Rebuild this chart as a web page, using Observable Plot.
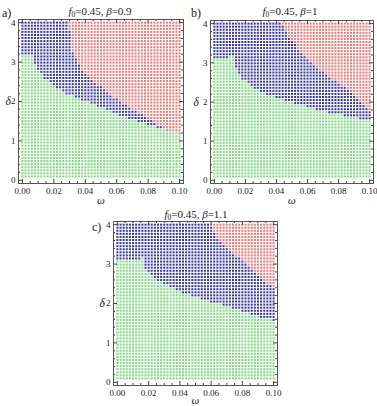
<!DOCTYPE html>
<html>
<head>
<meta charset="utf-8">
<script src="https://cdn.jsdelivr.net/npm/d3@7"></script>
<script src="https://cdn.jsdelivr.net/npm/@observablehq/plot@0.6"></script>
<style>
  body { margin: 0; background: #fff; }
  #chart { position: relative; width: 377px; height: 406px; overflow: hidden; font-family: "Liberation Serif", "Times New Roman", Times, "DejaVu Serif", serif; color: #222; }
  .panel { position: absolute; }
  .panel svg text { font-family: "Liberation Serif", "Times New Roman", Times, "DejaVu Serif", serif; }
  .title { position: absolute; font-size: 11px; line-height: 1; white-space: nowrap; transform: translateX(-50%); }
  .title sub { font-size: 7.5px; vertical-align: -2px; line-height: 0; }
  .tag { position: absolute; font-size: 12px; line-height: 1; }
</style>
</head>
<body>
<div id="chart"></div>
<script>
// Parameter lattice of the scan: ω from 0 to 0.1, δ from 0.1 to 4
const omegaGrid = d3.range(51).map(i => +(i * 0.002).toFixed(4));
const deltaGrid = d3.range(51).map(i => +(0.1 + i * 0.078).toFixed(4));

const f0 = 0.45;
const betas = [0.9, 1, 1.1];
const tags = ["a)", "b)", "c)"];

// Upper edge of the green region, [ω, δ]
const greenEdgeA = [[0, 3.15], [0.007, 3.15], [0.008, 2.95], [0.0136, 2.6], [0.02, 2.4], [0.028, 2.19], [0.039, 2.02], [0.05, 1.85], [0.06, 1.68], [0.071, 1.52], [0.0815, 1.39], [0.092, 1.26], [0.1, 1.18]];
const greenEdgeB = [[0, 3.1], [0.009, 3.1], [0.0095, 3.2], [0.013, 3.2], [0.0135, 2.95], [0.0167, 2.63], [0.025, 2.37], [0.036, 2.16], [0.047, 2.03], [0.0575, 1.9], [0.068, 1.78], [0.079, 1.69], [0.09, 1.61], [0.1, 1.52]];
const greenEdgeC = [[0, 3.13], [0.0145, 3.13], [0.015, 3.2], [0.017, 3.2], [0.0175, 2.85], [0.0255, 2.58], [0.036, 2.37], [0.047, 2.2], [0.057, 2.08], [0.068, 1.95], [0.079, 1.82], [0.089, 1.69], [0.1, 1.57]];

// Lower-left edge of the red region, [ω, δ]
const redEdgeA = [[0.0295, 4.0], [0.031, 3.3], [0.037, 2.86], [0.0476, 2.44], [0.061, 2.02], [0.079, 1.6], [0.09, 1.3], [0.1, 1.14]];
const redEdgeB = [[0.0436, 4.0], [0.047, 3.73], [0.0564, 3.22], [0.064, 2.92], [0.0747, 2.63], [0.0854, 2.33], [0.094, 2.03], [0.0994, 1.78], [0.1, 1.75]];
const redEdgeC = [[0.0596, 4.0], [0.062, 3.77], [0.072, 3.35], [0.085, 2.92], [0.096, 2.5], [0.1, 2.39]];

const xMajor = [0, 0.02, 0.04, 0.06, 0.08, 0.1];
const xMinor = [0.005, 0.01, 0.015, 0.025, 0.03, 0.035, 0.045, 0.05, 0.055, 0.065, 0.07, 0.075, 0.085, 0.09, 0.095];
const yMajor = [0, 1, 2, 3, 4];
const yMinor = [0.2, 0.4, 0.6, 0.8, 1.2, 1.4, 1.6, 1.8, 2.2, 2.4, 2.6, 2.8, 3.2, 3.4, 3.6, 3.8];

const colors = { green: "#84d884", blue: "#3a3a98", red: "#e67b7b" };
const serif = "'Liberation Serif', 'Times New Roman', Times, 'DejaVu Serif', serif";

// Panel placement on the page
const panels = [
  { left: 0,   top: 0,   width: 188, height: 206, mL: 18, mR: 5, mT: 19, mB: 23, green: greenEdgeA, red: redEdgeA, deltaDx: -13, omegaDy: 20,
    tagPos: [2, 7], titleX: 100, titleY: 6 },
  { left: 192, top: 0,   width: 185, height: 206, mL: 18, mR: 4, mT: 20, mB: 23, green: greenEdgeB, red: redEdgeB, deltaDx: -17, omegaDy: 20,
    tagPos: [191, 7], titleX: 290, titleY: 6 },
  { left: 95,  top: 202, width: 188, height: 204, mL: 18, mR: 6, mT: 19, mB: 21, green: greenEdgeC, red: redEdgeC, deltaDx: -14, omegaDy: 18,
    tagPos: [92, 221], titleX: 196, titleY: 209 }
];

function regionOf(omega, delta, green, red) {
  const gPoly = [[-1, green[0][1]], ...green, [1, green[green.length - 1][1]], [1, -1], [-1, -1]];
  const rPoly = [[red[0][0], 10], ...red, [1, red[red.length - 1][1]], [1, 10]];
  if (d3.polygonContains(gPoly, [omega, delta])) return "green";
  if (d3.polygonContains(rPoly, [omega, delta])) return "red";
  return "blue";
}

const chart = document.getElementById("chart");

panels.forEach((p, i) => {
  const points = [];
  for (const w of omegaGrid) for (const d of deltaGrid) {
    points.push({ omega: w, delta: d, region: regionOf(w, d, p.green, p.red) });
  }
  const frameW = p.width - p.mL - p.mR;
  const frameH = p.height - p.mT - p.mB;

  const svg = Plot.plot({
    width: p.width,
    height: p.height,
    marginLeft: p.mL,
    marginRight: p.mR,
    marginTop: p.mT,
    marginBottom: p.mB,
    style: { fontFamily: serif, fontSize: "9px", color: "#222", background: "transparent", overflow: "visible" },
    x: { domain: [-0.0025, 0.1025] },
    y: { domain: [-0.08, 4.08] },
    marks: [
      Plot.dot(points, { x: "omega", y: "delta", symbol: "square", r: 1.15, fill: d => colors[d.region], stroke: null }),
      Plot.frame({ stroke: "#555", strokeWidth: 1 }),
      Plot.tickX(xMajor, { x: d => d, insetTop: frameH - 4, stroke: "#444" }),
      Plot.tickX(xMajor, { x: d => d, insetBottom: frameH - 4, stroke: "#444" }),
      Plot.tickX(xMinor, { x: d => d, insetTop: frameH - 2, stroke: "#444" }),
      Plot.tickX(xMinor, { x: d => d, insetBottom: frameH - 2, stroke: "#444" }),
      Plot.tickY(yMajor, { y: d => d, insetRight: frameW - 4, stroke: "#444" }),
      Plot.tickY(yMajor, { y: d => d, insetLeft: frameW - 4, stroke: "#444" }),
      Plot.tickY(yMinor, { y: d => d, insetRight: frameW - 2, stroke: "#444" }),
      Plot.tickY(yMinor, { y: d => d, insetLeft: frameW - 2, stroke: "#444" }),
      Plot.axisX(xMajor, { tickSize: 0, tickPadding: 4, tickFormat: d3.format(".2f"), label: null, fontFamily: serif }),
      Plot.axisY(yMajor, { tickSize: 0, tickPadding: 3, tickFormat: d3.format("d"), label: null, fontFamily: serif }),
      Plot.text(["ω"], { text: d => d, frameAnchor: "bottom", dy: p.omegaDy, fontStyle: "italic", fontSize: 11, fontFamily: serif }),
      Plot.text(["δ"], { text: d => d, frameAnchor: "left", dx: p.deltaDx, fontStyle: "italic", fontSize: 11.5, fontFamily: serif })
    ]
  });
  const wrap = document.createElement("div");
  wrap.className = "panel";
  wrap.style.left = p.left + "px";
  wrap.style.top = p.top + "px";
  wrap.appendChild(svg);
  chart.appendChild(wrap);

  const title = document.createElement("div");
  title.className = "title";
  title.style.left = p.titleX + "px";
  title.style.top = p.titleY + "px";
  title.innerHTML = `<i>f</i><sub>0</sub>=${f0}, <i>β</i>=${betas[i]}`;
  chart.appendChild(title);

  const tag = document.createElement("div");
  tag.className = "tag";
  tag.style.left = p.tagPos[0] + "px";
  tag.style.top = p.tagPos[1] + "px";
  tag.textContent = tags[i];
  chart.appendChild(tag);
});
</script>
</body>
</html>
